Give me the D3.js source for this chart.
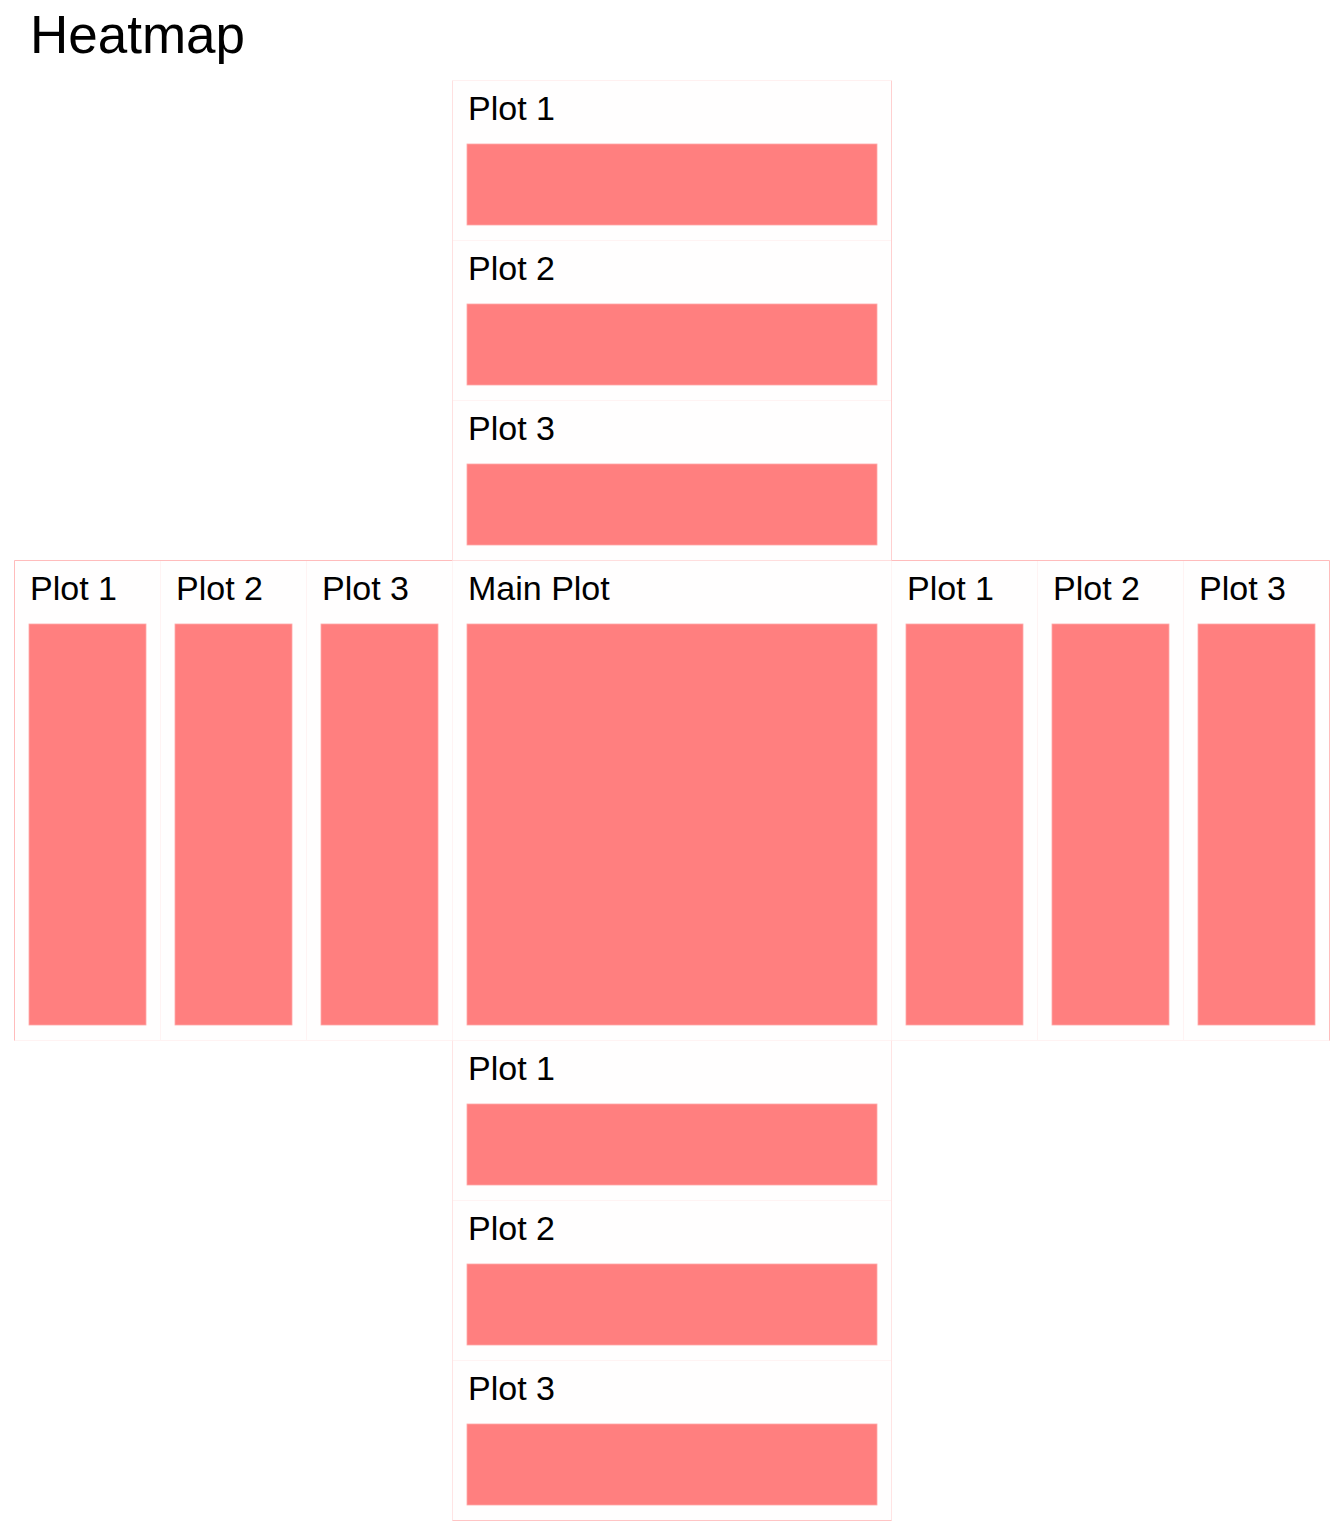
<!DOCTYPE html>
<html>
<head>
<meta charset="utf-8">
<script src="https://cdn.jsdelivr.net/npm/d3@7"></script>
<style>
  html, body { margin: 0; padding: 0; background: #ffffff; }
  text { font-family: "Liberation Sans", Arial, sans-serif; fill: #000; }
</style>
</head>
<body>
<svg id="chart" width="1344" height="1536"></svg>
<script>
// ---- data ----
const chartTitle = "Heatmap";
const topPlots = ["Plot 1", "Plot 2", "Plot 3"];
const topValues = [1, 1, 1];
const leftPlots = ["Plot 1", "Plot 2", "Plot 3"];
const leftValues = [1, 1, 1];
const mainPlots = ["Main Plot"];
const mainValues = [1];
const rightPlots = ["Plot 1", "Plot 2", "Plot 3"];
const rightValues = [1, 1, 1];
const bottomPlots = ["Plot 1", "Plot 2", "Plot 3"];
const bottomValues = [1, 1, 1];

// ---- layout ----
const svg = d3.select("#chart");
const color = d3.scaleLinear().domain([0, 1]).range(["#ffffff", "#ff7f7f"]);

const xLeft = d3.scaleBand().domain(leftPlots).range([14, 452]);
const xMain = d3.scaleBand().domain(mainPlots).range([452, 891]);
const xRight = d3.scaleBand().domain(rightPlots).range([891, 1329]);
const yTop = d3.scaleBand().domain(topPlots).range([80, 560]);
const yMid = d3.scaleBand().domain(mainPlots).range([560, 1040]);
const yBottom = d3.scaleBand().domain(bottomPlots).range([1040, 1520]);

svg.append("text")
  .attr("x", 30).attr("y", 53)
  .attr("font-size", 53)
  .text(chartTitle);

function panels(labels, values, xs, ys, xKey, yKey) {
  const data = labels.map((l, i) => ({ label: l, value: values[i] }));
  const g = svg.append("g");
  const p = g.selectAll("g.panel").data(data).join("g")
    .attr("class", "panel")
    .attr("transform", d => `translate(${xs(xKey ? d.label : xs.domain()[0])},${ys(yKey ? d.label : ys.domain()[0])})`);
  const w = xs.bandwidth(), h = ys.bandwidth();
  p.append("rect")
    .attr("x", 0.5).attr("y", 0.5).attr("width", w).attr("height", h)
    .attr("fill", "#fffefe").attr("stroke", "#fff3f3").attr("stroke-width", 1);
  p.append("text")
    .attr("x", 16).attr("y", 40)
    .attr("font-size", 34)
    .text(d => d.label);
  p.append("rect")
    .attr("x", 15).attr("y", 64)
    .attr("width", w - 29).attr("height", h - 79)
    .attr("fill", d => color(d.value))
    .attr("stroke", "#ffa9a9").attr("stroke-width", 0.8);
  return g;
}

panels(topPlots, topValues, xMain, yTop, false, true);
panels(leftPlots, leftValues, xLeft, yMid, true, false);
panels(mainPlots, mainValues, xMain, yMid, true, true);
panels(rightPlots, rightValues, xRight, yMid, true, false);
panels(bottomPlots, bottomValues, xMain, yBottom, false, true);

// group outlines
const line = (x0, y0, x1, y1, c) => svg.append("line")
  .attr("x1", x0 + 0.5).attr("y1", y0 + 0.5).attr("x2", x1 + 0.5).attr("y2", y1 + 0.5)
  .attr("stroke", c).attr("stroke-width", 1);
const [mx0, mx1] = xMain.range();
const [tx0, tx1] = yTop.range();
const [my0, my1] = yMid.range();
const [by0, by1] = yBottom.range();
const [lx0] = xLeft.range();
const [, rx1] = xRight.range();
// top group
line(mx0, tx0, mx0, tx1, "#ffe0e0");
line(mx1, tx0, mx1, tx1, "#ffd0d0");
line(mx0, tx0, mx1, tx0, "#fff0f0");
// middle row
line(lx0, my0, mx0, my0, "#ffbcbc");
line(mx0, my0, mx1, my0, "#ffdede");
line(mx1, my0, rx1, my0, "#ffbcbc");
line(lx0, my0, lx0, my1, "#ffbcbc");
line(rx1, my0, rx1, my1, "#ffbcbc");
// bottom group
line(mx0, by0, mx0, by1, "#ffe4e4");
line(mx1, by0, mx1, by1, "#ffe4e4");
line(mx0, by1, mx1, by1, "#ffc4c4");
</script>
</body>
</html>
